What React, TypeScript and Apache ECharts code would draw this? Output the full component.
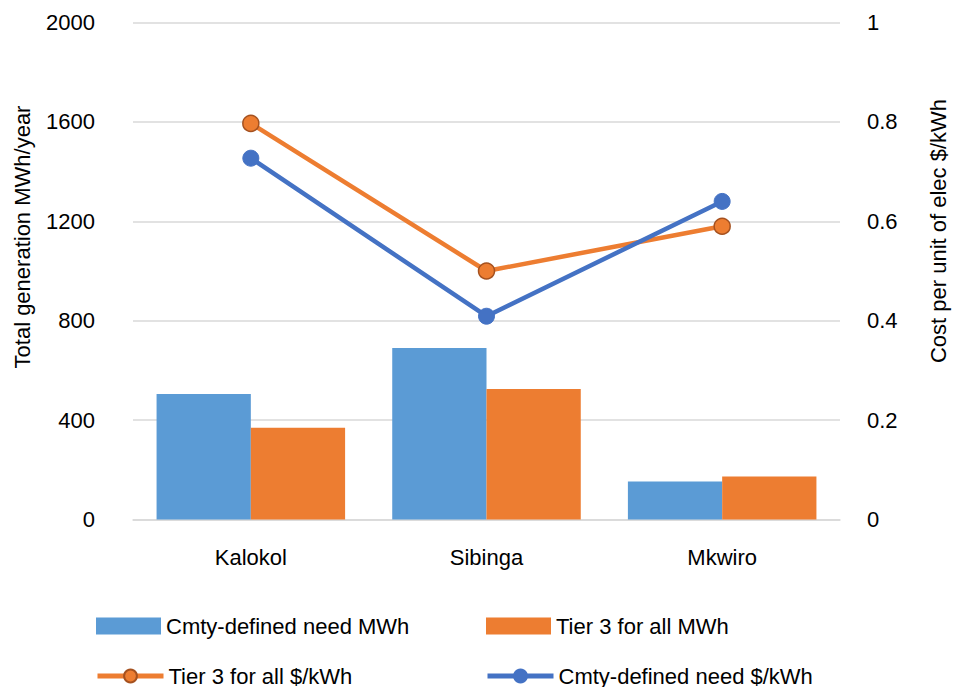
import React, { useEffect, useRef } from "react";
import * as echarts from "echarts";

const categories = ["Kalokol", "Sibinga", "Mkwiro"];
const cmtyNeedMWh = [505, 690, 153];
const tier3MWh = [369, 525, 173];
const tier3Cost = [0.797, 0.5, 0.59];
const cmtyNeedCost = [0.727, 0.409, 0.64];
const leftTicks = [0, 400, 800, 1200, 1600, 2000];
const rightTicks = [0, 0.2, 0.4, 0.6, 0.8, 1];

const FONT = "'Liberation Sans', Arial, sans-serif";
const TXT = "#000000";
const GRID = "#d9d9d9";
const FS = 22;

export default function App() {
  const ref = useRef<HTMLDivElement>(null);
  useEffect(() => {
    if (!ref.current) return;
    const chart = echarts.init(ref.current, undefined, { renderer: "svg" });
    const legendBase = {
      orient: "horizontal",
      padding: 0,
      itemGap: 0,
      textStyle: { fontFamily: FONT, fontSize: FS, color: TXT },
      selectedMode: false,
    };
    chart.setOption({
      animation: false,
      backgroundColor: "#ffffff",
      textStyle: { fontFamily: FONT },
      grid: { left: 133, right: 115, top: 22.5, bottom: 167.5, containLabel: false },
      legend: [
        { ...legendBase, data: [{ name: "Cmty-defined need MWh", icon: "rect" }], left: 96, top: 615, itemWidth: 65, itemHeight: 17 },
        { ...legendBase, data: [{ name: "Tier 3 for all MWh", icon: "rect" }], left: 486, top: 615, itemWidth: 65, itemHeight: 17 },
        { ...legendBase, data: ["Tier 3 for all $/kWh"], left: 95, top: 665, itemWidth: 66, itemHeight: 16, lineStyle: { width: 5 } },
        { ...legendBase, data: ["Cmty-defined need $/kWh"], left: 485, top: 665, itemWidth: 66, itemHeight: 16, lineStyle: { width: 5 } },
      ],
      xAxis: {
        type: "category",
        data: categories,
        axisLine: { show: true, lineStyle: { color: GRID, width: 1.5 } },
        axisTick: { show: false },
        axisLabel: { color: TXT, fontSize: FS, fontFamily: FONT, margin: 27 },
      },
      yAxis: [
        {
          type: "value",
          min: leftTicks[0],
          max: leftTicks[leftTicks.length - 1],
          interval: 400,
          axisLine: { show: false },
          axisTick: { show: false },
          axisLabel: { color: TXT, fontSize: FS, fontFamily: FONT, margin: 38, formatter: (v: number) => String(v) },
          splitLine: { show: true, lineStyle: { color: GRID, width: 1.5 } },
        },
        {
          type: "value",
          min: rightTicks[0],
          max: rightTicks[rightTicks.length - 1],
          interval: 0.2,
          axisLine: { show: false },
          axisTick: { show: false },
          axisLabel: { color: TXT, fontSize: FS, fontFamily: FONT, margin: 27, formatter: (v: number) => String(Math.round(v * 10) / 10) },
          splitLine: { show: false },
        },
      ],
      series: [
        {
          name: "Cmty-defined need MWh",
          type: "bar",
          data: cmtyNeedMWh,
          yAxisIndex: 0,
          barGap: "0%",
          barCategoryGap: "20%",
          itemStyle: { color: "#5B9BD5" },
        },
        {
          name: "Tier 3 for all MWh",
          type: "bar",
          data: tier3MWh,
          yAxisIndex: 0,
          barGap: "0%",
          barCategoryGap: "20%",
          itemStyle: { color: "#ED7D31" },
        },
        {
          name: "Tier 3 for all $/kWh",
          type: "line",
          data: tier3Cost,
          yAxisIndex: 1,
          symbol: "circle",
          symbolSize: 16,
          z: 5,
          lineStyle: { color: "#ED7D31", width: 4.5 },
          itemStyle: { color: "#ED7D31", borderColor: "#A5511F", borderWidth: 1.5 },
        },
        {
          name: "Cmty-defined need $/kWh",
          type: "line",
          data: cmtyNeedCost,
          yAxisIndex: 1,
          symbol: "circle",
          symbolSize: 16,
          z: 5,
          lineStyle: { color: "#4472C4", width: 4.5 },
          itemStyle: { color: "#4472C4", borderColor: "#4472C4", borderWidth: 1 },
        },
      ],
      graphic: [
        {
          type: "text",
          x: 22,
          y: 237,
          rotation: Math.PI / 2,
          style: {
            text: "Total generation MWh/year",
            fontFamily: FONT,
            fontSize: FS,
            fill: TXT,
            align: "center",
            verticalAlign: "middle",
          },
        },
        {
          type: "text",
          x: 938,
          y: 231,
          rotation: Math.PI / 2,
          style: {
            text: "Cost per unit of elec $/kWh",
            fontFamily: FONT,
            fontSize: FS,
            fill: TXT,
            align: "center",
            verticalAlign: "middle",
          },
        },
      ],
    });
    return () => chart.dispose();
  }, []);
  return <div ref={ref} style={{ width: 955, height: 687, position: "absolute", left: 0, top: 0 }} />;
}
